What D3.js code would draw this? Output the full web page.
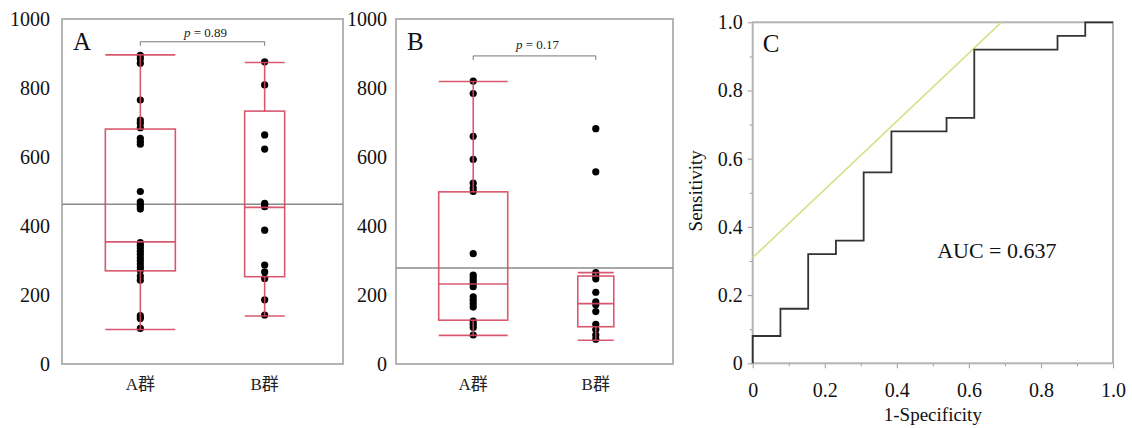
<!DOCTYPE html>
<html>
<head>
<meta charset="utf-8">
<script src="https://cdn.jsdelivr.net/npm/d3@7"></script>
<style>
  body { margin: 0; background: #fff; }
  svg { display: block; }
</style>
</head>
<body>
<script>
// ---- data ----
const groups = ['A群', 'B群']
const yTicks = [0, 200, 400, 600, 800, 1000]

// panel A
const panelA_pts1 = [895, 885, 872, 765, 707, 698, 685, 654, 645, 637, 500, 470, 463, 456, 449,
  352, 344, 336, 327, 318, 309, 300, 290, 280, 271, 255, 243, 140, 132, 103]
const panelA_pts2 = [876, 809, 664, 623, 466, 461, 456, 388, 287, 267, 248, 186, 142]
const panelA_low = [100, 139]
const panelA_q1 = [270, 253]
const panelA_med = [354, 454]
const panelA_q3 = [681, 733]
const panelA_high = [896, 874]
const panelA_mean = 463
const panelA_p = '0.89'

// panel B
const panelB_pts1 = [820, 784, 660, 593, 524, 510, 500, 320, 258, 250, 242, 233, 224,
  195, 185, 175, 165, 124, 115, 106, 84]
const panelB_pts2 = [682, 557, 265, 256, 247, 208, 180, 172, 152, 115, 100, 84, 72]
const panelB_low = [83, 69]
const panelB_q1 = [127, 108]
const panelB_med = [232, 175]
const panelB_q3 = [499, 255]
const panelB_high = [819, 265]
const panelB_mean = 278
const panelB_p = '0.17'

// panel C (ROC, step corners)
const rocX = [0, 0, 0.077, 0.154, 0.231, 0.308, 0.385, 0.538, 0.615, 0.846, 0.923, 1.0]
const rocY = [0, 0.08, 0.16, 0.32, 0.36, 0.56, 0.68, 0.72, 0.92, 0.96, 1.0, 1.0]
const refX = [0, 0.69]
const refY = [0.31, 1.0]
const auc = '0.637'
const rocTicks = [0, 0.2, 0.4, 0.6, 0.8, 1.0]
const rocMinor = [0.1, 0.3, 0.5, 0.7, 0.9]

// ---- styles ----
const serif = '"Liberation Serif", "Times New Roman", serif'
const red = '#d4475f'
const frameCol = '#b4b4b4'

const svg = d3.select('body').append('svg')
  .attr('width', 1132)
  .attr('height', 428)
  .attr('font-family', serif)

svg.append('rect').attr('width', 1132).attr('height', 428).attr('fill', '#fff')

let y = d3.scaleLinear()
  .domain([0, 1000])
  .range([364, 19])

function styleAxis(a) {
  a.select('.domain').remove()
  a.attr('font-family', serif).attr('font-size', 20)
  a.selectAll('line').attr('stroke', '#999')
  a.selectAll('text').attr('font-family', serif).attr('font-size', 20).attr('fill', '#111')
}

function boxPanel(cfg) {
  let x = d3.scalePoint()
    .domain(groups)
    .range([cfg.x0, cfg.x1])
    .padding(0.63)

  let g = svg.append('g')

  g.append('rect')
    .attr('x', cfg.x0).attr('y', y(1000))
    .attr('width', cfg.x1 - cfg.x0).attr('height', y(0) - y(1000))
    .attr('fill', 'none').attr('stroke', frameCol).attr('stroke-width', 2)

  g.append('g')
    .attr('transform', 'translate(' + cfg.x0 + ',0)')
    .call(d3.axisLeft(y).tickValues(yTicks).tickFormat(d3.format('d')).tickSize(0).tickPadding(cfg.pad))
    .call(styleAxis)

  // category labels
  g.selectAll('.cat')
    .data(groups)
    .enter().append('text')
    .attr('x', (d) => x(d))
    .attr('y', 390)
    .attr('text-anchor', 'middle')
    .attr('font-size', 17)
    .attr('font-family', '"Liberation Serif", "Noto Sans CJK JP", serif')
    .attr('fill', '#222')
    .text((d) => d)

  // overall mean line
  g.append('line')
    .attr('x1', cfg.x0).attr('x2', cfg.x1)
    .attr('y1', y(cfg.mean)).attr('y2', y(cfg.mean))
    .attr('stroke', '#8a8a8a').attr('stroke-width', 1.5)

  // points
  cfg.pts.forEach((vals, i) => {
    g.selectAll('.pt' + i)
      .data(vals)
      .enter().append('circle')
      .attr('cx', x(groups[i]))
      .attr('cy', (d) => y(d))
      .attr('r', 3.6)
      .attr('fill', '#000')
  })

  // boxes and whiskers
  groups.forEach((gr, i) => {
    let cx = x(gr), hw = cfg.halfW[i]
    let b = g.append('g')
      .attr('stroke', red).attr('stroke-width', 1.6).attr('fill', 'none')
      .attr('stroke-opacity', 0.9)
    b.append('line').attr('x1', cx).attr('x2', cx).attr('y1', y(cfg.high[i])).attr('y2', y(cfg.q3[i]))
    b.append('line').attr('x1', cx).attr('x2', cx).attr('y1', y(cfg.q1[i])).attr('y2', y(cfg.low[i]))
    b.append('rect')
      .attr('x', cx - hw).attr('width', 2 * hw)
      .attr('y', y(cfg.q3[i])).attr('height', y(cfg.q1[i]) - y(cfg.q3[i]))
    ;[cfg.low[i], cfg.med[i], cfg.high[i]].forEach((v) => {
      b.append('line').attr('x1', cx - hw).attr('x2', cx + hw).attr('y1', y(v)).attr('y2', y(v))
    })
  })

  // significance bracket
  let by = y(cfg.bracket), xa = x(groups[0]), xb = x(groups[1])
  g.append('path')
    .attr('d', 'M' + xa + ',' + (by + 4) + 'V' + by + 'H' + xb + 'V' + (by + 4))
    .attr('fill', 'none').attr('stroke', '#777').attr('stroke-width', 1)
  let pt = g.append('text')
    .attr('x', (xa + xb) / 2 + 3)
    .attr('y', by - cfg.pGap)
    .attr('text-anchor', 'middle')
    .attr('font-size', 13)
    .attr('fill', '#222')
  pt.append('tspan').attr('font-style', 'italic').text('p')
  pt.append('tspan').text(' = ' + cfg.p)

  g.append('text')
    .attr('x', cfg.x0 + 11)
    .attr('y', 50)
    .attr('font-size', 25)
    .attr('fill', '#111')
    .text(cfg.label)
}

boxPanel({
  label: 'A', x0: 62, x1: 343, pad: 12, halfW: [35, 20],
  pts: [panelA_pts1, panelA_pts2],
  low: panelA_low, q1: panelA_q1, med: panelA_med, q3: panelA_q3, high: panelA_high,
  mean: panelA_mean, p: panelA_p, bracket: 934, pGap: 4.5
})

boxPanel({
  label: 'B', x0: 396, x1: 673, pad: 9, halfW: [34.5, 18],
  pts: [panelB_pts1, panelB_pts2],
  low: panelB_low, q1: panelB_q1, med: panelB_med, q3: panelB_q3, high: panelB_high,
  mean: panelB_mean, p: panelB_p, bracket: 893, pGap: 7
})

// ---- panel C: ROC ----
let xC = d3.scaleLinear().domain([0, 1]).range([752.7, 1113])
let yC = d3.scaleLinear().domain([0, 1]).range([363.3, 22.3])
let gC = svg.append('g')

let fmt = (d) => d === 0 ? '0' : d3.format('.1f')(d)

gC.append('g')
  .attr('transform', 'translate(' + xC(0) + ',0)')
  .call(d3.axisLeft(yC).tickValues(rocTicks).tickFormat(fmt).tickSize(5).tickPadding(5))
  .call(styleAxis)
gC.append('g')
  .attr('transform', 'translate(' + xC(0) + ',0)')
  .call(d3.axisLeft(yC).tickValues(rocMinor).tickFormat('').tickSize(3))
  .call(styleAxis)
gC.append('g')
  .attr('transform', 'translate(0,' + yC(0) + ')')
  .call(d3.axisBottom(xC).tickValues(rocTicks).tickFormat(fmt).tickSize(5).tickPadding(15))
  .call(styleAxis)
gC.append('g')
  .attr('transform', 'translate(0,' + yC(0) + ')')
  .call(d3.axisBottom(xC).tickValues(rocMinor).tickFormat('').tickSize(3))
  .call(styleAxis)

gC.append('rect')
  .attr('x', xC(0)).attr('y', yC(1))
  .attr('width', xC(1) - xC(0)).attr('height', yC(0) - yC(1))
  .attr('fill', 'none').attr('stroke', frameCol).attr('stroke-width', 2)

gC.append('path')
  .datum(refX.map((d, i) => [d, refY[i]]))
  .attr('d', d3.line().x((d) => xC(d[0])).y((d) => yC(d[1])))
  .attr('fill', 'none').attr('stroke', '#d9df8a').attr('stroke-width', 1.6)

gC.append('path')
  .datum(rocX.map((d, i) => [d, rocY[i]]))
  .attr('d', d3.line().x((d) => xC(d[0])).y((d) => yC(d[1])).curve(d3.curveStepAfter))
  .attr('fill', 'none').attr('stroke', '#333').attr('stroke-width', 1.8)

gC.append('text')
  .attr('x', xC(0.512)).attr('y', yC(0.309))
  .attr('font-size', 22).attr('fill', '#111')
  .text('AUC = ' + auc)

gC.append('text')
  .attr('x', xC(0) + 10).attr('y', 52)
  .attr('font-size', 25).attr('fill', '#111')
  .text('C')

gC.append('text')
  .attr('x', (xC(0) + xC(1)) / 2).attr('y', 421)
  .attr('text-anchor', 'middle')
  .attr('font-size', 19).attr('fill', '#111')
  .text('1-Specificity')

gC.append('text')
  .attr('transform', 'translate(695,' + (yC(0.5) - 2) + ') rotate(-90)')
  .attr('text-anchor', 'middle')
  .attr('dy', '0.35em')
  .attr('font-size', 19).attr('fill', '#111')
  .text('Sensitivity')
</script>
</body>
</html>
